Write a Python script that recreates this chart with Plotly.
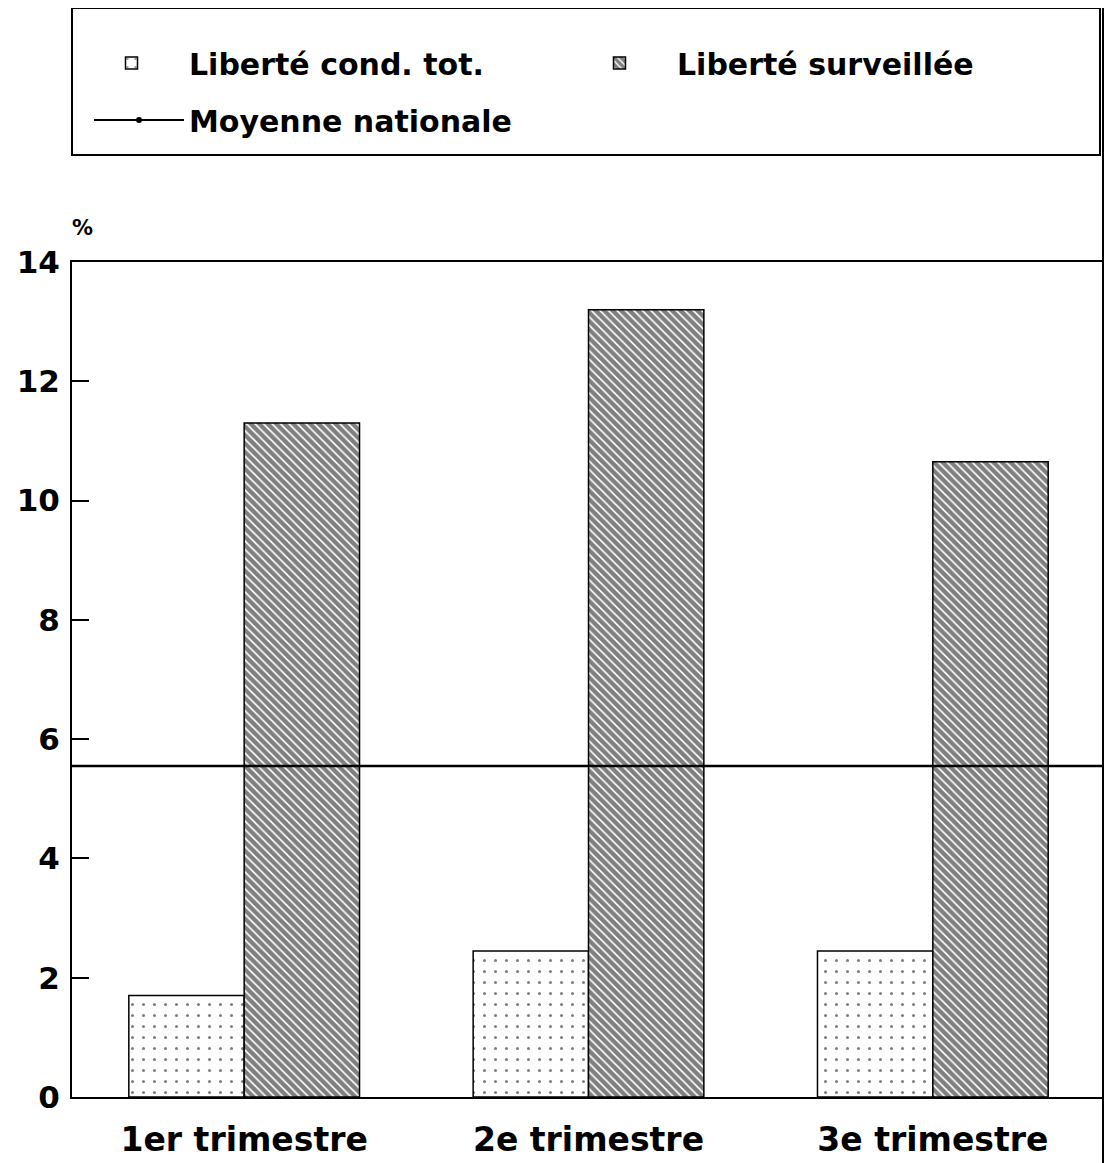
import plotly.graph_objects as go

categories = ["1er trimestre", "2e trimestre", "3e trimestre"]
liberte_cond_tot = [1.7, 2.45, 2.45]
liberte_surveillee = [11.3, 13.2, 10.65]
moyenne_nationale = 5.55
y_ticks = [0, 2, 4, 6, 8, 10, 12, 14]

FONT = "DejaVu Sans"

fig = go.Figure()
fig.add_trace(go.Bar(
    x=categories, y=liberte_cond_tot, name="Liberté cond. tot.",
    marker=dict(color="white", line=dict(color="black", width=1.5),
                pattern=dict(shape=".", fgcolor="black", bgcolor="white", size=11, solidity=0.06)),
    legend="legend",
))
fig.add_trace(go.Bar(
    x=categories, y=liberte_surveillee, name="Liberté surveillée",
    marker=dict(color="white", line=dict(color="black", width=1.5),
                pattern=dict(shape="\\", fgcolor="black", bgcolor="white", size=6, solidity=0.72)),
    legend="legend",
))
# legend entry for the national average (line drawn with add_hline below)
fig.add_trace(go.Scatter(
    x=[None], y=[None], mode="lines+markers", name="Moyenne nationale",
    line=dict(color="black", width=2), marker=dict(color="black", size=6),
    legend="legend2",
))

# page is offset by the 8px body margin
OFF = 8
W, H = 1112 - OFF, 1163 - OFF
L, R, T, B = 72 - OFF, 1112 - 1105, 262 - OFF, 1163 - 1097
pw, ph = W - L - R, H - T - B

def px_x(px):
    return (px - OFF - L) / pw

def px_y(py):
    return (H - B - (py - OFF)) / ph

legend_font = dict(family=FONT, size=30, color="black", weight="bold")

fig.update_layout(
    width=W, height=H,
    margin=dict(l=L, r=R, t=T, b=B, autoexpand=False),
    paper_bgcolor="white", plot_bgcolor="white",
    barmode="group", bargap=0.33, bargroupgap=0,
    showlegend=True,
    legend=dict(orientation="h", x=px_x(74), xanchor="left", y=px_y(63), yanchor="middle",
                font=legend_font, entrywidth=368, entrywidthmode="pixels",
                itemwidth=105, bgcolor="rgba(0,0,0,0)", borderwidth=0, traceorder="normal"),
    legend2=dict(orientation="h", x=px_x(89), xanchor="left", y=px_y(120), yanchor="middle",
                 font=legend_font, itemwidth=90, bgcolor="rgba(0,0,0,0)", borderwidth=0),
    xaxis=dict(range=[-0.5, 2.5], showline=True, linecolor="black", linewidth=2, mirror=True,
               ticks="", showgrid=False, zeroline=False, automargin=False,
               tickfont=dict(family=FONT, size=33, color="black", weight="bold"),
               ticklabelstandoff=12),
    yaxis=dict(range=[0, 14], tickvals=y_ticks, ticks="inside", ticklen=17, tickwidth=1.5,
               tickcolor="black", showline=True, linecolor="black", linewidth=2, mirror=True,
               showgrid=False, zeroline=False, automargin=False,
               tickfont=dict(family=FONT, size=31, color="black", weight="bold"),
               ticklabelstandoff=4),
    annotations=[
        dict(text="%", xref="paper", yref="paper", x=px_x(70), y=px_y(228), xanchor="left",
             yanchor="middle", showarrow=False,
             font=dict(family=FONT, size=21, color="black", weight="bold")),
    ],
)

fig.add_hline(y=moyenne_nationale, line=dict(color="black", width=2.5))
fig.add_shape(type="rect", xref="paper", yref="paper", x0=px_x(72), x1=px_x(1100),
              y0=px_y(155), y1=px_y(8), line=dict(color="black", width=2),
              fillcolor="rgba(0,0,0,0)")
fig.add_shape(type="line", xref="paper", yref="paper", x0=px_x(1104), x1=px_x(1104),
              y0=px_y(1163), y1=px_y(8), line=dict(color="black", width=4))

fig.write_html("out.html")
